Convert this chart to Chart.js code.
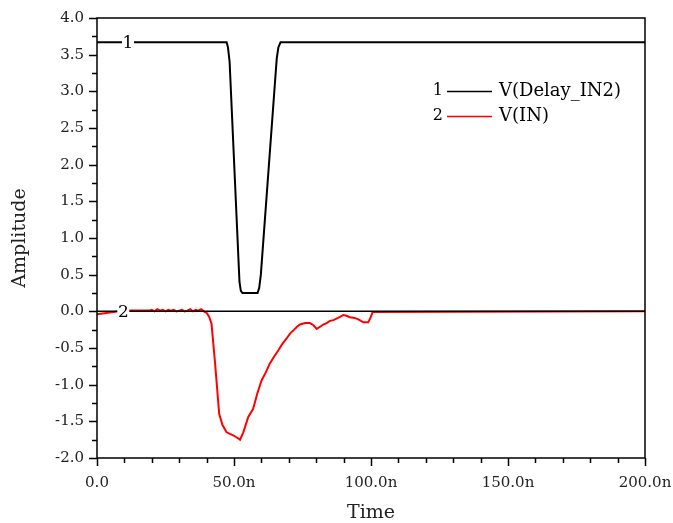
<!DOCTYPE html>
<html>
<head>
<meta charset="utf-8">
<script src="https://cdn.jsdelivr.net/npm/chart.js@4"></script>
<style>
  html, body { margin: 0; padding: 0; background: #fff; }
  #wrap { width: 673px; height: 523px; }
</style>
</head>
<body>
<div id="wrap"><canvas id="chart" width="673" height="523"></canvas></div>
<script>
// Time in ns
const delayTime = [0, 47.3, 47.8, 48.4, 52.0, 52.5, 53.1, 58.6, 59.2, 59.8, 65.6, 66.2, 67.0, 200];
const delayValues = [3.67, 3.67, 3.6, 3.4, 0.4, 0.28, 0.25, 0.25, 0.32, 0.5, 3.45, 3.6, 3.67, 3.67];

const inTime = [0, 4, 8, 12, 16, 19, 20, 21, 22, 23, 24, 25, 26, 27, 28, 29, 30, 31, 32, 33, 34, 35, 36, 37, 38, 39,
  40, 41, 41.8, 43.1, 44.6, 45.8, 47.3, 48.5, 49.7, 51, 52.2, 53.4, 55.2, 57.0, 58.5, 60.1, 61.5, 63.1, 64.6, 66.2,
  67.7, 69.2, 70.5, 71.7, 73, 74.1, 76, 77.7, 79.0, 80.2, 81.4, 82.6, 83.8, 85, 86.3, 88, 89.9, 91, 92.3, 94, 95.4,
  97.2, 99.0, 99.9, 100.6, 200];
const inValues = [-0.04, -0.02, 0.0, 0.01, 0.01, 0.01, 0.02, 0.0, 0.03, 0.01, 0.02, 0.0, 0.02, 0.01, 0.02, 0.0, 0.01, 0.02, 0.0, 0.01, 0.03, 0.0, 0.02, 0.01, 0.03, 0.0,
  -0.02, -0.08, -0.17, -0.71, -1.40, -1.55, -1.65, -1.67, -1.69, -1.72, -1.75, -1.65, -1.44, -1.33, -1.12, -0.94, -0.84, -0.71, -0.62, -0.53,
  -0.44, -0.37, -0.30, -0.26, -0.21, -0.18, -0.16, -0.16, -0.19, -0.24, -0.21, -0.18, -0.16, -0.13, -0.12, -0.09, -0.05, -0.06, -0.08, -0.09, -0.11,
  -0.15, -0.15, -0.08, -0.01, 0.0];

const seriesLabels = ['V(Delay_IN2)', 'V(IN)'];
const seriesColors = ['#000000', '#ff0000'];
const yTicks = [-2.0, -1.5, -1.0, -0.5, 0.0, 0.5, 1.0, 1.5, 2.0, 2.5, 3.0, 3.5, 4.0];
const xTicks = [0, 50, 100, 150, 200];

const FONT = '"DejaVu Serif", "Liberation Serif", serif';

function pts(xs, ys) {
    return xs.map((x, i) => ({ x: x, y: ys[i] }));
}

// frame, minor ticks, curve markers and legend
const decorPlugin = {
    id: 'decor',
    afterDraw(chart) {
        const ctx = chart.ctx;
        const a = chart.chartArea;
        const xs = chart.scales.x, ys = chart.scales.y;
        ctx.save();
        ctx.strokeStyle = '#000';
        ctx.lineWidth = 1.5;
        ctx.strokeRect(a.left, a.top, a.right - a.left, a.bottom - a.top);

        // ticks (major outward, minor shorter)
        ctx.beginPath();
        for (let v = -2; v <= 4.001; v += 0.25) {
            const p = Math.round(ys.getPixelForValue(v)) + 0.5;
            const major = Math.abs(v * 2 - Math.round(v * 2)) < 1e-6;
            ctx.moveTo(a.left, p);
            ctx.lineTo(a.left - (major ? 8 : 5), p);
        }
        for (let t = 0; t <= 200; t += 10) {
            const p = Math.round(xs.getPixelForValue(t)) + 0.5;
            const major = t % 50 === 0;
            ctx.moveTo(p, a.bottom);
            ctx.lineTo(p, a.bottom + (major ? 8 : 5));
        }
        ctx.stroke();

        // curve numbers
        ctx.font = '17px ' + FONT;
        ctx.textAlign = 'center';
        ctx.textBaseline = 'middle';
        const marks = [{ t: 11.3, v: 3.67, s: '1' }, { t: 9.6, v: 0.0, s: '2' }];
        marks.forEach(m => {
            const px = xs.getPixelForValue(m.t), py = ys.getPixelForValue(m.v);
            ctx.fillStyle = '#fff';
            ctx.fillRect(px - 6, py - 8, 12, 16);
            ctx.fillStyle = '#000';
            ctx.fillText(m.s, px, py + 1);
        });

        // legend
        seriesLabels.forEach((lab, i) => {
            const y = 91 + i * 25;
            ctx.fillStyle = '#000';
            ctx.textAlign = 'right';
            ctx.font = '16px ' + FONT;
            ctx.fillText(String(i + 1), 443, y);
            ctx.strokeStyle = seriesColors[i];
            ctx.lineWidth = 1.5;
            ctx.beginPath();
            ctx.moveTo(447, y + 0.5);
            ctx.lineTo(492, y + 0.5);
            ctx.stroke();
            ctx.textAlign = 'left';
            ctx.font = '18px ' + FONT;
            ctx.fillText(lab, 499, y);
        });
        ctx.restore();
    }
};

new Chart(document.getElementById('chart'), {
    type: 'line',
    data: {
        datasets: [
            {
                label: 'zero',
                data: pts([0, 200], [0, 0]),
                borderColor: '#000',
                borderWidth: 1.5,
                pointRadius: 0
            },
            {
                label: seriesLabels[0],
                data: pts(delayTime, delayValues),
                borderColor: seriesColors[0],
                borderWidth: 2,
                pointRadius: 0
            },
            {
                label: seriesLabels[1],
                data: pts(inTime, inValues),
                borderColor: seriesColors[1],
                borderWidth: 2,
                pointRadius: 0
            }
        ]
    },
    options: {
        responsive: false,
        animation: false,
        layout: { padding: { top: 18, right: 28, left: 0, bottom: 0 } },
        plugins: { legend: { display: false }, tooltip: { enabled: false } },
        scales: {
            x: {
                type: 'linear',
                min: 0,
                max: 200,
                afterBuildTicks: s => { s.ticks = xTicks.map(v => ({ value: v })); },
                afterFit: s => { s.height = 65; s.paddingLeft = 0; s.paddingRight = 0; },
                grid: { display: false, drawTicks: false },
                border: { display: false },
                ticks: {
                    color: '#222',
                    padding: 16,
                    font: { family: FONT, size: 15 },
                    maxRotation: 0,
                    callback: v => v === 0 ? '0.0' : v.toFixed(1) + 'n'
                },
                title: {
                    display: true,
                    text: 'Time',
                    color: '#222',
                    font: { family: FONT, size: 19, lineHeight: 1 },
                    padding: { top: 11, bottom: 0 }
                }
            },
            y: {
                min: -2,
                max: 4,
                afterBuildTicks: s => { s.ticks = yTicks.map(v => ({ value: v })); },
                afterFit: s => { s.width = 97; s.paddingTop = 0; s.paddingBottom = 0; },
                grid: { display: false, drawTicks: false },
                border: { display: false },
                ticks: {
                    color: '#222',
                    padding: 13,
                    font: { family: FONT, size: 15 },
                    callback: v => v.toFixed(1)
                },
                title: {
                    display: true,
                    text: 'Amplitude',
                    color: '#222',
                    font: { family: FONT, size: 19 },
                    padding: { top: 9, bottom: 2 }
                }
            }
        }
    },
    plugins: [decorPlugin]
});
</script>
</body>
</html>
